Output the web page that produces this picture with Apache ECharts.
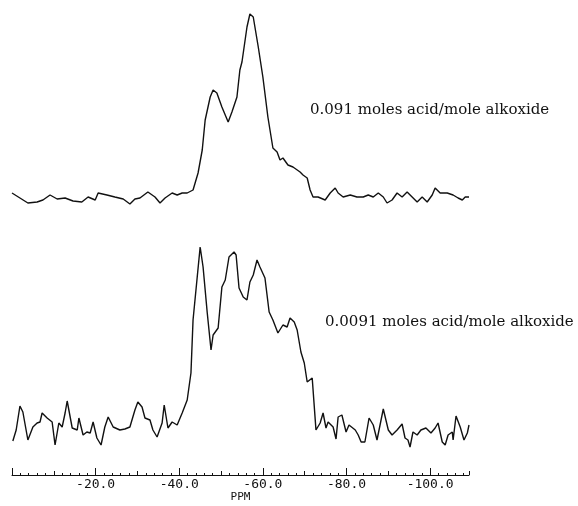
<!DOCTYPE html>
<html><head><meta charset="utf-8">
<script src="https://cdn.jsdelivr.net/npm/echarts@6/dist/echarts.min.js"></script>
<style>html,body{margin:0;padding:0;background:#fff}#c{width:578px;height:506px}</style>
</head><body><div id="c"></div>
<script>
// Chemical shift (ppm) and intensity (arbitrary units) of the upper spectrum
const topPpm = [0.0,-1.9,-3.8,-6.0,-7.4,-9.1,-10.8,-12.7,-14.6,-16.7,
  -18.2,-19.9,-20.6,-22.7,-24.6,-26.6,-28.2,-29.4,-30.6,-32.5,
  -34.2,-35.4,-36.6,-38.3,-39.5,-40.7,-41.9,-43.3,-44.5,-45.5,
  -46.2,-47.4,-48.1,-49.0,-50.2,-51.7,-52.6,-53.8,-54.5,-55.0,
  -56.2,-56.9,-57.7,-58.9,-60.0,-61.2,-62.4,-63.4,-64.1,-64.8,
  -66.0,-67.2,-68.9,-69.6,-70.6,-71.3,-72.0,-73.2,-74.9,-76.1,
  -77.3,-78.0,-79.2,-80.9,-82.5,-84.0,-85.2,-86.4,-87.6,-88.8,
  -89.7,-90.9,-92.1,-93.3,-94.5,-95.7,-96.9,-98.1,-99.3,-100.5,
  -101.2,-102.4,-104.1,-105.5,-106.7,-107.7,-108.4,-109.3];
const topInt = [17,12,7,8,10,15,11,12,9,8,
  13,10,17,15,13,11,6,11,12,18,
  13,7,12,17,15,17,17,20,37,60,
  90,113,120,117,103,88,98,113,140,148,
  183,196,193,163,133,93,62,58,50,52,
  45,43,38,35,32,20,13,13,10,17,
  22,17,13,15,13,13,15,13,17,13,
  7,10,17,13,18,13,8,13,8,15,
  22,17,17,15,12,10,13,13];
// Lower spectrum
const botPpm = [-0.2,-1.0,-1.9,-2.6,-3.8,-5.0,-6.0,-6.7,-7.2,-8.4,
  -9.6,-10.3,-11.2,-12.0,-12.7,-13.2,-14.4,-15.6,-16.0,-17.0,
  -17.9,-18.7,-19.4,-20.3,-21.3,-22.2,-23.0,-24.2,-25.8,-27.0,
  -28.2,-29.4,-30.1,-31.1,-31.8,-33.0,-33.7,-34.7,-35.9,-36.4,
  -37.3,-38.3,-39.5,-40.7,-41.9,-42.8,-43.3,-44.3,-45.0,-45.7,
  -46.7,-47.6,-48.1,-49.3,-50.2,-51.0,-51.9,-53.1,-53.6,-54.3,
  -55.3,-56.2,-56.9,-57.7,-58.6,-59.3,-60.5,-61.5,-62.4,-63.6,
  -64.8,-65.8,-66.5,-67.5,-68.2,-69.1,-69.9,-70.6,-71.8,-72.7,
  -73.7,-74.4,-75.1,-75.6,-76.8,-77.5,-78.0,-78.9,-79.9,-80.6,
  -82.1,-82.8,-83.5,-84.4,-85.4,-86.4,-87.3,-88.8,-90.0,-90.9,
  -92.1,-93.3,-94.0,-94.7,-95.2,-95.9,-96.9,-97.8,-99.0,-100.2,
  -101.2,-101.9,-102.9,-103.6,-104.3,-105.3,-105.5,-106.2,-107.2,-108.1,
  -108.9,-109.3];
const botInt = [9,20,44,38,10,23,27,28,37,32,
  28,5,27,23,37,49,22,20,32,15,
  18,17,28,12,5,23,33,23,20,21,
  23,40,48,43,32,30,20,13,27,45,
  22,28,25,37,50,77,130,173,203,183,
  137,100,115,122,163,170,193,198,195,162,
  153,150,168,175,190,183,172,138,130,117,
  125,123,132,128,120,98,87,68,72,20,
  27,37,22,28,23,11,33,35,18,25,
  20,15,8,8,32,25,10,41,20,15,
  20,26,12,10,3,18,15,20,22,17,
  22,27,8,5,15,18,10,34,23,10,
  17,25];
// Axis ticks (magnitude of ppm, drawn with a minus sign)
const axisEnd = 109.3;
const majorTicks = [0,20,40,60,80,100];
const labelTicks = [20,40,60,80,100];
const mediumTicks = [10,30,50,70,90,109.3];
const minorTicks = [];
for (let v = 2; v < axisEnd; v += 2) minorTicks.push(v);
const topLabel = '0.091 moles acid/mole alkoxide';
const botLabel = '0.0091 moles acid/mole alkoxide';
const axisName = 'PPM';

const ink = '#111';
const chart = echarts.init(document.getElementById('c'), null, {renderer:'canvas'});
const tickAxis = (values, len) => ({
  gridIndex:1, type:'value', min:0, max:axisEnd, position:'bottom', offset:0,
  axisLine:{show:false, onZero:false},
  axisTick:{show:true, inside:true, length:len, customValues:values, lineStyle:{color:ink, width:1}},
  axisLabel:{show:false}, splitLine:{show:false}
});
chart.setOption({
  animation:false,
  backgroundColor:'#fff',
  grid:[
    {left:12, right:109, top:0, height:210},
    {left:12, right:109, top:240, bottom:31}
  ],
  xAxis:[
    {gridIndex:0, type:'value', min:0, max:axisEnd, show:false},
    {gridIndex:1, type:'value', min:0, max:axisEnd, position:'bottom', offset:0,
      axisLine:{show:true, onZero:false, lineStyle:{color:ink, width:1}},
      axisTick:{show:true, inside:true, length:7, customValues:majorTicks, lineStyle:{color:ink, width:1}},
      splitLine:{show:false},
      axisLabel:{show:true, customValues:labelTicks, margin:3, color:ink,
        fontFamily:'DejaVu Sans Mono', fontSize:13,
        formatter:v => '-' + Number(v).toFixed(1)},
      name:axisName, nameLocation:'middle', nameGap:15,
      nameTextStyle:{fontFamily:'DejaVu Sans Mono', fontSize:11, color:ink}
    },
    tickAxis(mediumTicks, 4),
    tickAxis(minorTicks, 2)
  ],
  yAxis:[
    {gridIndex:0, type:'value', min:0, max:210, show:false},
    {gridIndex:1, type:'value', min:-25, max:210, show:false}
  ],
  series:[
    {type:'line', xAxisIndex:0, yAxisIndex:0, symbol:'none', silent:true,
      lineStyle:{color:ink, width:1.4},
      data:topPpm.map((p,i)=>[-p, topInt[i]])},
    {type:'line', xAxisIndex:1, yAxisIndex:1, symbol:'none', silent:true,
      lineStyle:{color:ink, width:1.4},
      data:botPpm.map((p,i)=>[-p, botInt[i]])}
  ],
  graphic:[
    {type:'text', x:310, y:110, style:{text:topLabel, font:'15px "DejaVu Serif"', fill:ink, verticalAlign:'middle'}},
    {type:'text', x:325, y:322, style:{text:botLabel, font:'15px "DejaVu Serif"', fill:ink, verticalAlign:'middle'}}
  ]
});
</script></body></html>
